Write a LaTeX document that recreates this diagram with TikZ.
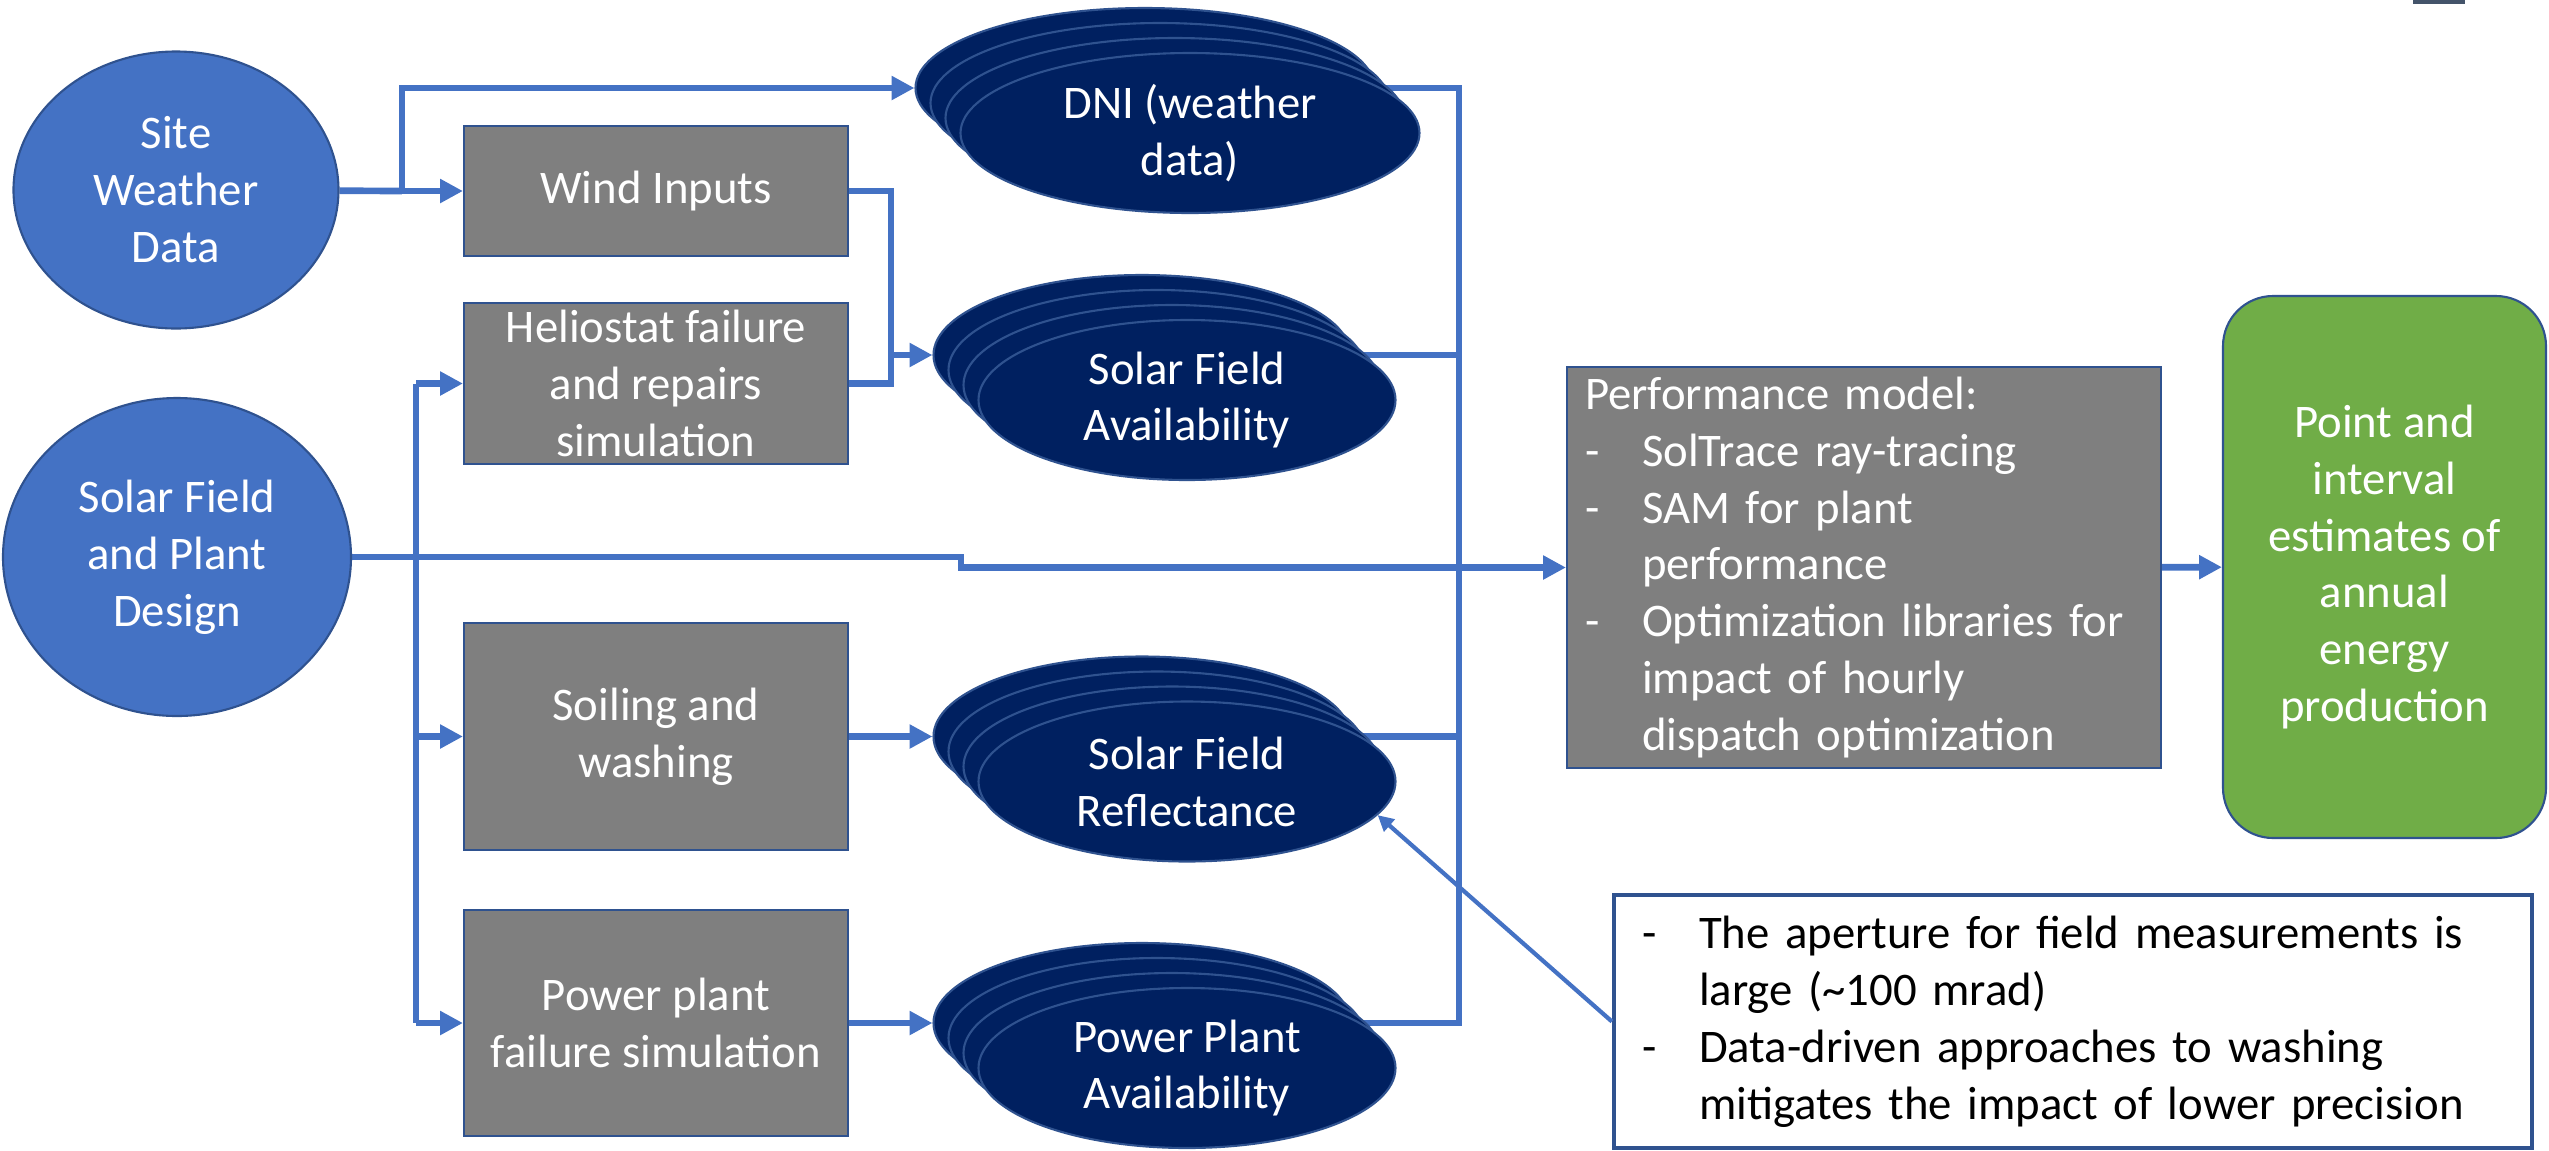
\documentclass[tikz,border=0pt]{standalone}
\usepackage{fontspec}
\setmainfont{Carlito}
\usetikzlibrary{arrows.meta,shapes.geometric,backgrounds}

\definecolor{accent}{HTML}{4472C4}
\definecolor{edge}{HTML}{2F528F}
\definecolor{boxgray}{HTML}{7F7F7F}
\definecolor{navy}{HTML}{002060}
\definecolor{leaf}{HTML}{70AD47}
\definecolor{slate}{HTML}{44546A}

\tikzset{
  every node/.style={font=\fontsize{13.3}{16.2}\selectfont},
  source/.style={ellipse, fill=accent, draw=edge, line width=0.6pt, text=white, align=center, inner sep=0pt},
  process/.style={rectangle, fill=boxgray, draw=edge, line width=0.6pt, text=white, align=center, inner sep=0pt, minimum width=38.4mm},
  layer/.style={ellipse, fill=navy, draw=edge, line width=0.6pt, minimum height=16mm, inner sep=0pt},
  link/.style={draw=accent, line width=1.9pt},
  feed/.style={link, -{Triangle[length=6.5pt,width=6.5pt]}},
}

% bullet lines
\newcommand{\dashline}[1]{\makebox[5.7mm][l]{-}\mbox{#1}}
\newcommand{\gapline}[1]{\hspace*{5.7mm}\mbox{#1}}

% four stacked ellipses: name, x, y, width, label
\newcommand{\layerstack}[5]{%
  \foreach \k in {1,...,4}
    \node[layer, minimum width=#4] (#1\k) at ([shift={(15*\k-15,15*\k-15)}]#2,#3) {};
  \node[text=white, align=center] at (#14) {#5};
}

\begin{document}
\begin{tikzpicture}[x=0.1mm, y=-0.1mm]
\useasboundingbox (0,0) rectangle (2549,1150);
\fill[slate] (2413,0) rectangle (2465,4);

% Inputs
\node[source, minimum width=32.5mm, minimum height=27.7mm] (site) at (176,190) {Site\\Weather\\Data};
\node[source, minimum width=34.8mm, minimum height=31.8mm] (design) at (177,557) {Solar Field\\and Plant\\Design};

% Simulations
\node[process, minimum height=13mm] (wind) at (656,191) {Wind Inputs};
\node[process, minimum height=16.1mm] (helio) at (656,383.5) {Heliostat failure\\and repairs\\simulation};
\node[process, minimum height=22.7mm] (soil) at (656,736.5) {Soiling and\\washing};
\node[process, minimum height=22.6mm] (power) at (656,1023) {Power plant\\failure simulation};

% Time series
\layerstack{dni}{1145}{88}{45.9mm}{DNI (weather\\data)}
\layerstack{sfa}{1142}{355}{41.7mm}{Solar Field\\Availability}
\layerstack{sfr}{1142}{736.5}{41.7mm}{Solar Field\\Reflectance}
\layerstack{ppa}{1142}{1023}{41.7mm}{Power Plant\\Availability}

% Model and output
\node[process, minimum width=59.4mm, minimum height=40.1mm, align=left, text width=55.8mm, inner xsep=1.8mm] (perf) at (1864,567.5)
  {Performance model:\\
   \dashline{SolTrace ray-tracing}\\
   \dashline{SAM for plant}\\
   \gapline{performance}\\
   \dashline{Optimization libraries for}\\
   \gapline{impact of hourly}\\
   \gapline{dispatch optimization}};
\node[rectangle, rounded corners=5mm, fill=leaf, draw=edge, line width=0.6pt, text=white, align=center, minimum width=32.3mm, minimum height=54.2mm] (result) at (2384.5,567)
  {Point and\\interval\\estimates of\\annual\\energy\\production};

% Note
\node[rectangle, draw=edge, line width=1.2pt, fill=white, text=black, align=left, text width=86.2mm, inner xsep=2.8mm, minimum height=25.3mm] (note) at (2073,1021.5)
  {\dashline{The aperture for field measurements is}\\
   \gapline{large (\textasciitilde100 mrad)}\\
   \dashline{Data-driven approaches to washing}\\
   \gapline{mitigates the impact of lower precision}};

% Arrows
\coordinate (wsplit) at (402,191);
\coordinate (hjoin) at (891,383.5);
\coordinate (dsplit) at (416,557);
\coordinate (kink) at (961,557);
\coordinate (bus) at (1459,567);

\begin{scope}[on background layer]
\draw[link] (site) -- (wsplit);
\draw[feed] (wsplit) |- (dni1);
\draw[feed] (wsplit) -- (wind);
\draw[link] (wind) -| (hjoin) -- (helio);
\draw[feed] (hjoin |- sfa1) -- (sfa1);
\draw[link] (dsplit |- helio) -- (dsplit |- power);
\foreach \n in {helio,soil,power}
  \draw[feed] (dsplit |- \n) -- (\n);
\draw[feed] (design) -- (kink) -- (kink |- perf) -- (perf);
\draw[feed] (soil) -- (sfr1);
\draw[feed] (power) -- (ppa1);
\draw[link] (dni1) -| (bus |- ppa1) -- (ppa1);
\draw[link] (sfa1) -- (sfa1 -| bus);
\draw[link] (sfr1) -- (sfr1 -| bus);
\end{scope}
\draw[feed] (perf) -- (result);
\draw[link, line width=1.2pt, -{Triangle[length=4.5pt,width=4.5pt]}] (note.west) -- (sfr4.-10);
\end{tikzpicture}
\end{document}
